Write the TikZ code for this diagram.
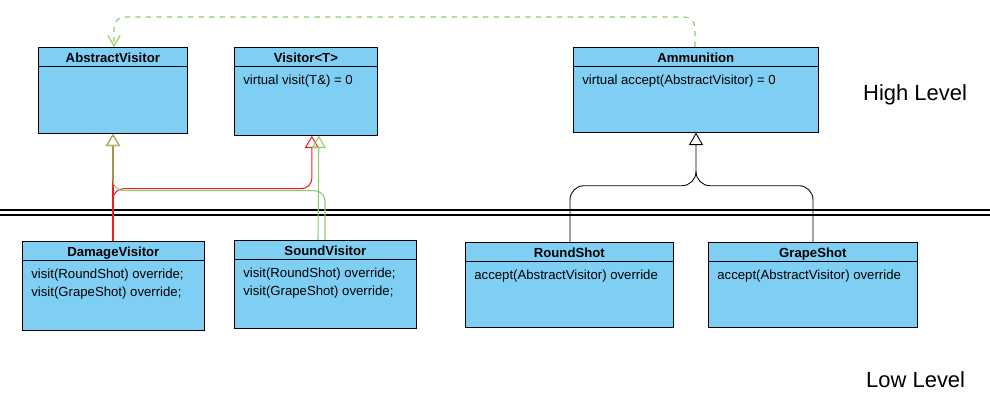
\documentclass[tikz,border=0pt]{standalone}
\usepackage{fontspec}
\setmainfont{Liberation Sans}
\usetikzlibrary{arrows.meta,calc}
\definecolor{boxblue}{HTML}{7FCFF5}
\definecolor{lgreen}{HTML}{8CCB6A}
\definecolor{lred}{HTML}{E8221E}
\tikzset{
  cls/.style={draw,fill=boxblue,anchor=north west,inner sep=0pt},
  hdr/.style={anchor=north,font=\bfseries\fontsize{7.5}{9}\selectfont,minimum height=0.36cm},
  bdy/.style={anchor=north west,align=left,font=\fontsize{7.5}{10}\selectfont,inner sep=0pt},
  inh/.style={-{Triangle[open,length=7pt,width=8pt]},line width=0.6pt},
  lvl/.style={font=\fontsize{12.5}{14}\selectfont,anchor=west}
}
\newcommand{\umlbox}[7]{%
  \node[cls,minimum width=#4*0.02cm,minimum height=#5*0.02cm] (#1) at (#2,#3) {};
  \node[hdr] (#1h) at (#1.north) {#6};
  \draw (#1.north west) ++(0,19) -- ++(#4,0);
  \node[bdy] (#1b) at ($(#1.north west)+(9,28)$) {#7};
}
\begin{document}
\begin{tikzpicture}[x=0.02cm,y=-0.02cm]
  \useasboundingbox (0,0) rectangle (990,403);
  % high level
  \umlbox{av}{38}{47}{149}{86}{AbstractVisitor}{}
  \umlbox{vis}{234}{47}{143}{88}{Visitor<T>}{virtual visit(T\&) = 0}
  \umlbox{amm}{573}{47}{245}{85}{Ammunition}{virtual accept(AbstractVisitor) = 0}
  \node[lvl] (high) at (857,95) {High Level};
  % separator
  \draw[line width=0.7pt] (0,210) -- (990,210);
  \draw[line width=0.7pt] (0,215) -- (990,215);
  % low level
  \umlbox{dv}{22}{241}{182}{89}{DamageVisitor}{visit(RoundShot) override;\\visit(GrapeShot) override;}
  \umlbox{sv}{234}{240}{182}{88}{SoundVisitor}{visit(RoundShot) override;\\visit(GrapeShot) override;}
  \umlbox{rs}{465}{242}{208}{85}{RoundShot}{accept(AbstractVisitor) override}
  \umlbox{gs}{708}{242}{209}{85}{GrapeShot}{accept(AbstractVisitor) override}
  \node[lvl] (low) at (860,380) {Low Level};
  % connectors
  \coordinate (vr) at ($(vis.south)+(6,0)$);
  \coordinate (vg) at ($(vis.south)+(13,0)$);
  \draw[inh,lred,rounded corners=6pt] ($(dv.north west)+(91,0)$) |- ($(vr)+(0,53)$) -- (vr);
  \draw[inh,lred] ($(dv.north west)+(91,0)$) -- ($(av.south west)+(75,0)$);
  \draw[inh,lgreen,rounded corners=6pt] ($(sv.north west)+(91,0)$) |- ($(av.south west)+(75,57)$) -- ($(av.south west)+(75,0)$);
  \draw[inh,lgreen] ($(sv.north west)+(84,0)$) -- (vg);
  \draw[inh,black,line width=0.5pt,rounded corners=8pt] ($(rs.north west)+(105,0)$) |- ($(amm.south west)+(123,53)$) -- ($(amm.south west)+(123,0)$);
  \draw[black,line width=0.5pt,rounded corners=8pt] ($(gs.north west)+(105,0)$) |- ($(amm.south west)+(123,53)$) -- ++(0,-10);
  \draw[lgreen,dashed,line width=0.6pt,rounded corners=6pt,-{Straight Barb[length=6pt,width=7pt]}] ($(amm.north west)+(122,0)$) -- ++(0,-30) -| ($(av.north west)+(76,0)$);
\end{tikzpicture}
\end{document}
